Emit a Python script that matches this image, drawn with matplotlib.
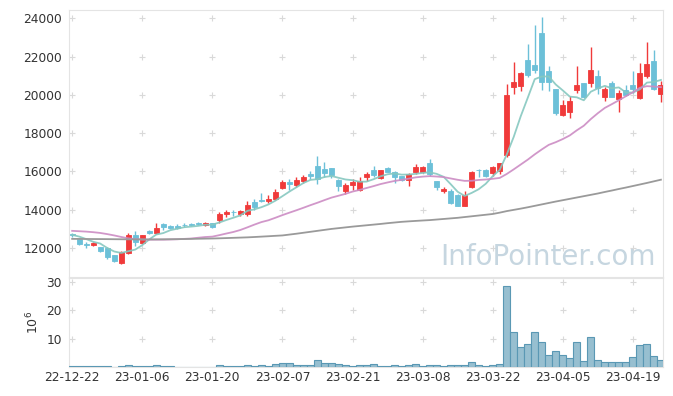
import numpy as np
import pandas as pd
import matplotlib
matplotlib.use('Agg')
from matplotlib import pyplot as plt

plt.rcParams['font.family'] = ['DejaVu Sans']

# daily OHLC (KRW), 22-12-22 .. 23-04-25
opens = [12720, 12480, 12230, 12180, 12040, 11990, 11630, 11200, 11720, 12670,
         12250, 12870, 12770, 13250, 13130, 13150, 13220, 13260, 13290, 13210,
         13300, 13480, 13760, 13900, 13790, 13780, 14430, 14520, 14480, 14550,
         15130, 15440, 15290, 15520, 15870, 16300, 16130, 16180, 15560, 15000,
         15310, 15040, 15730, 16080, 15660, 16190, 15980, 15740, 15540, 15960,
         15960, 16420, 15480, 14960, 14990, 14780, 14220, 15210, 16100, 16100,
         15930, 16040, 16840, 20400, 20440, 21800, 21540, 23230, 21230, 20280,
         18960, 19100, 20230, 20600, 20610, 20960, 19880, 20630, 19800, 20270,
         20530, 19840, 20980, 21750, 20060]
closes = [12680, 12220, 12180, 12250, 11860, 11520, 11300, 11800, 12690, 12300,
          12670, 12800, 13070, 13080, 13040, 13070, 13190, 13230, 13270, 13330,
          13080, 13770, 13880, 13860, 13950, 14260, 14160, 14440, 14580, 14940,
          15430, 15360, 15570, 15690, 15750, 15620, 15920, 15840, 15220, 15310,
          15430, 15520, 15870, 15840, 16080, 15960, 15730, 15560, 15870, 16250,
          16210, 15880, 15170, 15100, 14340, 14220, 14780, 15960, 16060, 15750,
          16210, 16420, 19970, 20670, 21140, 21020, 21290, 20670, 20680, 19040,
          19480, 19670, 20490, 19900, 21280, 20350, 20320, 19880, 20110, 19970,
          20320, 21160, 21630, 20290, 20490]
highs = [12780, 12530, 12320, 12340, 12060, 12050, 11650, 11850, 12780, 12870,
         12700, 12940, 13330, 13300, 13180, 13260, 13300, 13330, 13350, 13380,
         13330, 13860, 13990, 14000, 14000, 14470, 14570, 14850, 14780, 15100,
         15530, 15600, 15690, 15830, 16000, 16830, 16500, 16200, 15600, 15380,
         15600, 15700, 15960, 16260, 16100, 16220, 16000, 15780, 15900, 16400,
         16260, 16650, 15500, 15200, 15060, 14800, 14990, 16040, 16120, 16140,
         16300, 16440, 20580, 21710, 21200, 22670, 23630, 24070, 21520, 20300,
         19720, 19930, 21490, 20620, 22500, 21300, 20400, 20700, 20230, 20500,
         21270, 21660, 22760, 22320, 20700]
lows = [12600, 12160, 12000, 12100, 11800, 11450, 11280, 11150, 11700, 12120,
        12200, 12730, 12730, 12950, 12980, 12980, 13120, 13150, 13180, 13170,
        13050, 13300, 13640, 13700, 13650, 13680, 14000, 14400, 14350, 14500,
        15060, 15040, 15210, 15400, 15610, 15350, 15720, 15660, 14980, 14820,
        15040, 15000, 15520, 15700, 15620, 15950, 15420, 15480, 15220, 15870,
        15920, 15780, 15020, 14870, 14300, 14200, 14210, 15150, 15700, 15700,
        15780, 15870, 16740, 20060, 20200, 20930, 21140, 20230, 20200, 18950,
        18880, 18800, 20100, 19850, 20400, 20050, 19700, 19880, 19130, 19950,
        20100, 19800, 20890, 20230, 19640]
# volume, millions of shares
volume = [0.35, 0.35, 0.35, 0.35, 0.35, 0.35, 0.05, 0.35, 0.7, 0.35,
          0.35, 0.35, 0.7, 0.35, 0.35, 0.05, 0.05, 0.05, 0.05, 0.05,
          0.05, 0.7, 0.35, 0.35, 0.35, 0.7, 0.35, 0.7, 0.35, 1.0,
          1.4, 1.4, 0.7, 0.7, 0.7, 2.5, 1.4, 1.4, 1.2, 0.6,
          0.2, 0.6, 0.6, 0.9, 0.35, 0.35, 0.6, 0.35, 0.6, 0.9,
          0.35, 0.6, 0.6, 0.35, 0.6, 0.6, 0.6, 1.8, 0.7, 0.35,
          0.6, 0.9, 28.6, 12.4, 7.1, 8.1, 12.4, 8.8, 4.2, 5.6,
          4.2, 3.2, 8.8, 2.1, 10.6, 2.6, 1.8, 1.8, 1.8, 1.8,
          3.5, 7.8, 8.1, 3.9, 2.6]

ma5_head = [12690, 12600, 12470, 12330]
ma20_head = [12900, 12880, 12860, 12830, 12790, 12730, 12660, 12580, 12510, 12470,
             12450, 12440, 12440, 12440, 12450, 12460, 12480, 12500, 12540]
ma120 = [12480, 12478, 12475, 12472, 12470, 12467, 12463, 12460, 12456, 12453,
         12450, 12452, 12455, 12458, 12462, 12467, 12473, 12480, 12487, 12494,
         12500, 12510, 12522, 12535, 12547, 12560, 12578, 12598, 12618, 12640,
         12660, 12705, 12750, 12800, 12850, 12900, 12950, 13000, 13040, 13080,
         13120, 13155, 13190, 13225, 13260, 13300, 13335, 13370, 13395, 13418,
         13440, 13460, 13490, 13520, 13550, 13580, 13620, 13660, 13700, 13740,
         13780, 13850, 13930, 13995, 14060, 14130, 14205, 14280, 14355, 14430,
         14500, 14570, 14640, 14710, 14780, 14850, 14930, 15005, 15085, 15160,
         15240, 15320, 15400, 15485, 15570]

tick_labels = ['22-12-22', '23-01-06', '23-01-20', '23-02-07', '23-02-21',
               '23-03-08', '23-03-22', '23-04-05', '23-04-19']

UP, DOWN = '#f03a3a', '#6cc0d8'
SPINE = '#e4e4e4'
GRIDC = '#d9d9d9'
TXT = '#333333'

x = np.arange(len(closes))
o = np.array(opens); c = np.array(closes)
cs = pd.Series(closes, dtype=float)
ma5 = cs.rolling(5).mean().values
ma5[:len(ma5_head)] = ma5_head
ma20 = cs.rolling(20).mean().values
ma20[:len(ma20_head)] = ma20_head

fig = plt.figure(figsize=(6.73, 3.96), dpi=100)
ax = fig.add_axes([69/673, 1-277/396, 594/673, 267/396])
axv = fig.add_axes([69/673, 1-367/396, 594/673, 89/396], sharex=ax)

cols = [UP if cc >= oo else DOWN for oo, cc in zip(opens, closes)]
ax.vlines(x, lows, highs, colors=cols, linewidth=1.0, zorder=3)
ax.bar(x, np.abs(c - o), bottom=np.minimum(o, c), width=0.7, color=cols,
       edgecolor=cols, linewidth=0.6, zorder=4)
ax.plot(x, ma5, color='#86c8c0', lw=1.3, alpha=0.9, zorder=5)
ax.plot(x, ma20, color='#cc8cc4', lw=1.3, alpha=0.9, zorder=5)
ax.plot(x, ma120, color='#9a9a9a', lw=1.3, zorder=5)

xt = np.arange(0, 81, 10)
yt = np.arange(12000, 24001, 2000)
gx, gy = np.meshgrid(xt, yt)
ax.plot(gx.ravel(), gy.ravel(), ls='none', marker='+', ms=5, mew=0.8,
        color=GRIDC, zorder=1)
ax.set_xlim(-0.45, 84.3)
ax.set_ylim(10490, 24430)
ax.set_yticks(yt)
ax.set_yticklabels([str(v) for v in yt])
ax.tick_params(axis='y', length=0, pad=5, labelsize=8.8, labelcolor=TXT)
ax.tick_params(axis='x', length=0, labelbottom=False)
for s in ax.spines.values():
    s.set_color(SPINE)
ax.text(0.987, 0.075, 'InfoPointer.com', transform=ax.transAxes, ha='right',
        va='center', fontsize=20, color='#c6d6e0', zorder=2)

# volume panel
axv.bar(x, volume, width=1.0, color='#97bfd0', edgecolor='#5a98b4',
        linewidth=0.8, zorder=3)
vt = [10, 20, 30]
gx, gy = np.meshgrid(xt, vt)
axv.plot(gx.ravel(), gy.ravel(), ls='none', marker='+', ms=5, mew=0.8,
         color=GRIDC, zorder=1)
axv.set_ylim(0, 31.5)
axv.set_yticks(vt)
axv.set_xticks(xt)
axv.set_xticklabels(tick_labels)
axv.tick_params(axis='y', length=0, pad=5, labelsize=8.8, labelcolor=TXT)
axv.tick_params(axis='x', length=0, pad=3, labelsize=8.8, labelcolor=TXT)
axv.set_ylabel('$10^6$', fontsize=9, color=TXT, labelpad=4)
for s in axv.spines.values():
    s.set_color(SPINE)

plt.savefig('out.png', dpi=100)
